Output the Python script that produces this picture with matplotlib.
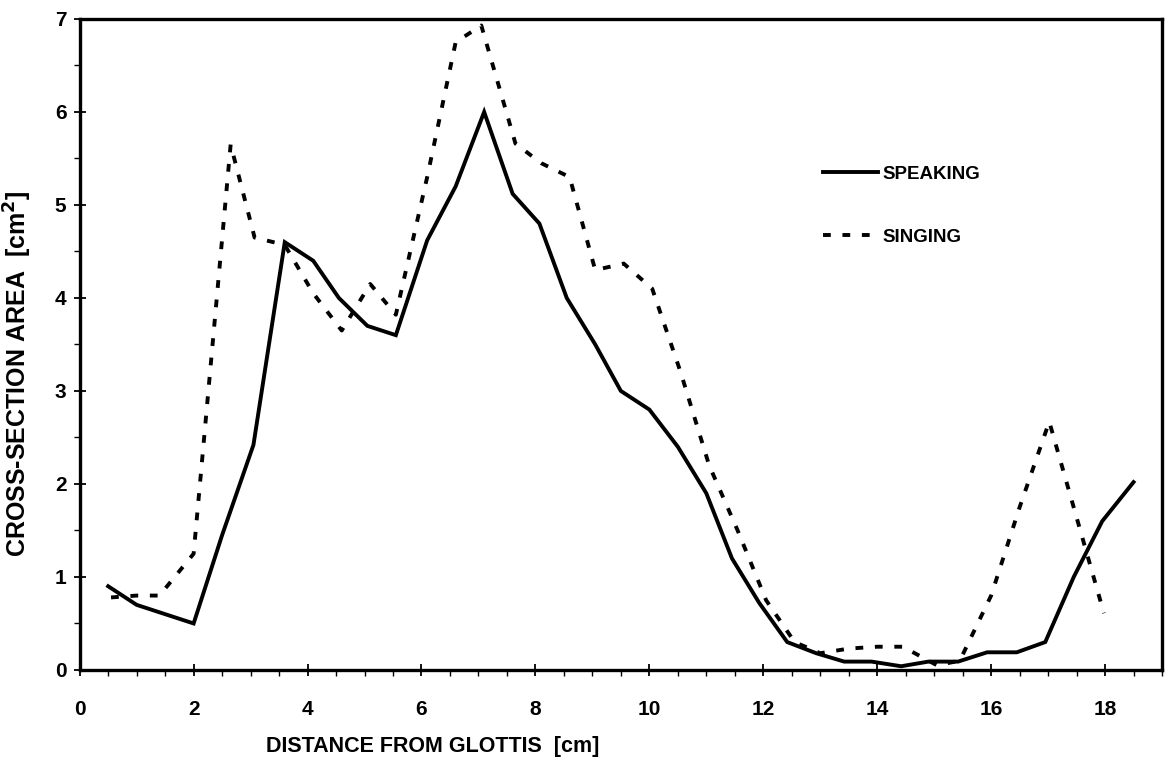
import numpy as np
import matplotlib
matplotlib.use("Agg")
import matplotlib.pyplot as plt
from matplotlib.ticker import MultipleLocator

plt.rcParams['font.family'] = ['Liberation Sans', 'DejaVu Sans']
plt.rcParams['font.weight'] = 'bold'

# Speaking (solid)
speak_x = [0.5, 1.0, 1.5, 2.0, 2.5, 3.05, 3.6, 4.1, 4.55, 5.05, 5.55, 6.1, 6.6, 7.1,
           7.6, 8.07, 8.55, 9.05, 9.5, 10.0, 10.5, 11.0, 11.45, 11.93, 12.42, 12.93,
           13.42, 13.9, 14.42, 14.9, 15.42, 15.93, 16.45, 16.95, 17.45, 17.95, 18.5]
speak_y = [0.9, 0.7, 0.6, 0.5, 1.45, 2.42, 4.6, 4.4, 4.0, 3.7, 3.6, 4.62, 5.2, 6.0,
           5.12, 4.8, 4.0, 3.5, 3.0, 2.8, 2.4, 1.9, 1.2, 0.72, 0.3, 0.18,
           0.09, 0.09, 0.04, 0.09, 0.09, 0.19, 0.19, 0.3, 1.0, 1.6, 2.02]

# Singing (dashed)
sing_x = [0.55, 1.0, 1.4, 2.0, 2.65, 3.07, 3.6, 4.1, 4.6, 5.1, 5.55, 6.1, 6.6, 7.05,
          7.65, 8.1, 8.6, 9.05, 9.55, 10.05, 10.55, 11.05, 11.55, 12.05, 12.55, 13.0,
          13.5, 14.0, 14.45, 15.05, 15.45, 16.0, 16.5, 17.02, 17.98]
sing_y = [0.78, 0.8, 0.8, 1.25, 5.65, 4.65, 4.57, 4.05, 3.65, 4.15, 3.82, 5.3, 6.75, 6.93,
          5.66, 5.45, 5.3, 4.3, 4.37, 4.1, 3.2, 2.2, 1.5, 0.75, 0.3, 0.18,
          0.23, 0.25, 0.25, 0.05, 0.1, 0.8, 1.75, 2.67, 0.61]

x_ticks = [0, 2, 4, 6, 8, 10, 12, 14, 16, 18]
y_ticks = [0, 1, 2, 3, 4, 5, 6, 7]

fig = plt.figure(figsize=(11.72, 7.59), dpi=100)
ax = fig.add_axes([0.068, 0.1173, 0.9235, 0.8577])

ax.plot(speak_x, speak_y, color='black', lw=2.8, solid_joinstyle='miter', label='SPEAKING')
ax.plot(sing_x, sing_y, color='black', lw=2.8, dashes=(2.0, 3.0), label='SINGING')

ax.set_xlim(0, 19)
ax.set_ylim(0, 7)
ax.set_xticks(x_ticks)
ax.set_yticks(y_ticks)
ax.xaxis.set_minor_locator(MultipleLocator(0.5))
ax.yaxis.set_minor_locator(MultipleLocator(0.5))

for s in ax.spines.values():
    s.set_linewidth(2.4)

ax.tick_params(axis='both', which='major', direction='inout', length=9, width=1.3,
               labelsize=15)
ax.tick_params(axis='x', which='major', pad=17)
ax.tick_params(axis='y', which='major', pad=5)
ax.tick_params(axis='both', which='minor', direction='out', length=4, width=1.0)

ax.set_xlabel('DISTANCE FROM GLOTTIS  [cm]', fontsize=15.5, fontweight='bold',
              va='center')
ax.set_ylabel('CROSS-SECTION AREA  [cm$^\\mathbf{2}$]', fontsize=18, fontweight='bold',
              va='center')
# labels sit off-centre in the original
ax.xaxis.set_label_coords(0.326, -0.117)
ax.yaxis.set_label_coords(-0.057, 0.455)

ax.legend(loc='upper left', bbox_to_anchor=(0.687, 0.775), frameon=False,
          fontsize=13.5, handlelength=2.9, handletextpad=0.25, labelspacing=2.45,
          borderpad=0, borderaxespad=0)

fig.savefig('out.png', dpi=100, facecolor='white')
